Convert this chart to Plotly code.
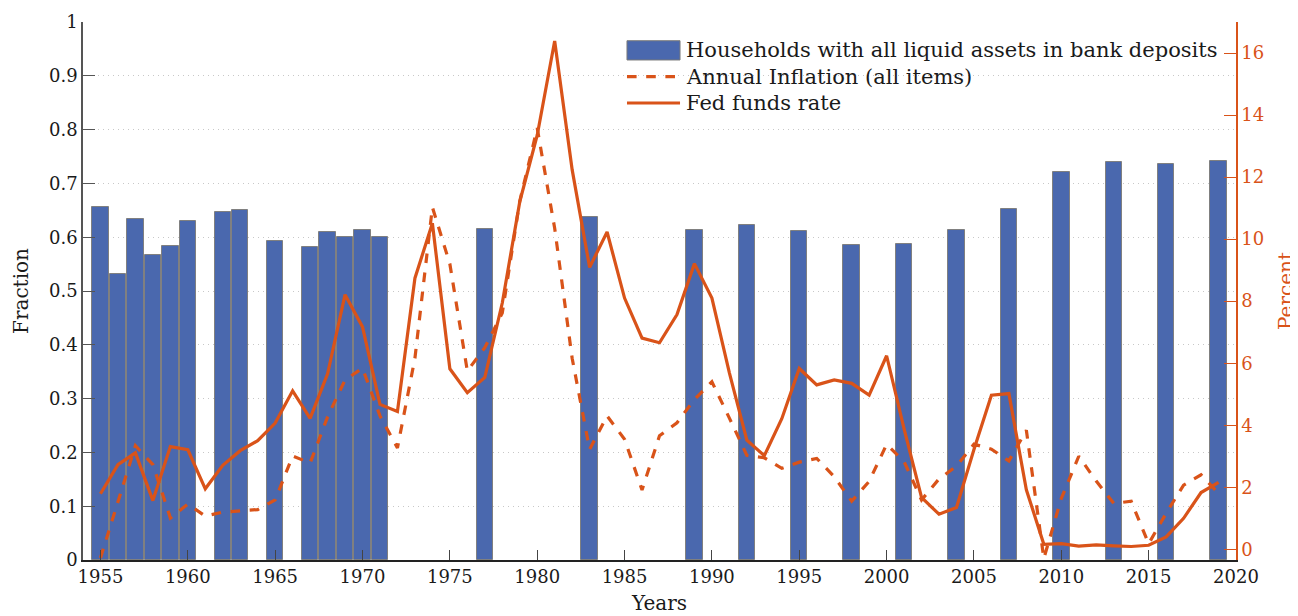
import plotly.graph_objects as go

# ---------------- data ----------------
bar_years = [1955, 1956, 1957, 1958, 1959, 1960, 1962, 1963, 1965, 1967, 1968, 1969, 1970, 1971,
             1977, 1983, 1989, 1992, 1995, 1998, 2001, 2004, 2007, 2010, 2013, 2016, 2019]
bar_share = [0.656, 0.532, 0.633, 0.567, 0.584, 0.631, 0.647, 0.650, 0.593, 0.582, 0.609, 0.601, 0.613, 0.600,
             0.615, 0.638, 0.613, 0.623, 0.611, 0.585, 0.587, 0.613, 0.653, 0.722, 0.740, 0.736, 0.742]

line_years = list(range(1955, 2020))
fed_funds = [1.79, 2.73, 3.11, 1.57, 3.31, 3.21, 1.95, 2.71, 3.18, 3.50,
             4.07, 5.11, 4.22, 5.66, 8.21, 7.17, 4.67, 4.44, 8.74, 10.51,
             5.82, 5.05, 5.54, 7.94, 11.20, 13.35, 16.39, 12.24, 9.09, 10.23,
             8.10, 6.81, 6.66, 7.57, 9.21, 8.10, 5.69, 3.52, 3.02, 4.21,
             5.83, 5.30, 5.46, 5.35, 4.97, 6.24, 3.88, 1.67, 1.13, 1.35,
             3.22, 4.97, 5.02, 1.92, 0.16, 0.18, 0.10, 0.14, 0.11, 0.09,
             0.13, 0.40, 1.00, 1.83, 2.16]
inflation = [-0.28, 1.52, 3.34, 2.73, 1.01, 1.46, 1.07, 1.20, 1.24, 1.28,
             1.59, 3.01, 2.78, 4.27, 5.46, 5.84, 4.30, 3.27, 6.16, 11.03,
             9.20, 5.75, 6.50, 7.62, 11.22, 13.58, 10.35, 6.16, 3.22, 4.30,
             3.55, 1.91, 3.66, 4.08, 4.83, 5.40, 4.23, 3.03, 2.95, 2.61,
             2.81, 2.93, 2.34, 1.55, 2.19, 3.38, 2.83, 1.59, 2.27, 2.68,
             3.39, 3.23, 2.85, 3.84, -0.30, 1.64, 3.00, 2.20, 1.48, 1.55,
             0.18, 1.16, 2.07, 2.40, 1.80]

series_names = ["Households with all liquid assets in bank deposits",
                "Annual Inflation (all items)",
                "Fed funds rate"]

left_ticks = [0, 0.1, 0.2, 0.3, 0.4, 0.5, 0.6, 0.7, 0.8, 0.9, 1]
right_ticks = [0, 2, 4, 6, 8, 10, 12, 14, 16]
x_ticks = [1955, 1960, 1965, 1970, 1975, 1980, 1985, 1990, 1995, 2000, 2005, 2010, 2015, 2020]

# ---------------- style ----------------
BLUE = "#4A68AE"
ORANGE = "#D95319"
FONT = "DejaVu Serif"
TXT = "#1a1a1a"

fig = go.Figure()
fig.add_trace(go.Bar(
    x=bar_years, y=bar_share, width=0.94,
    marker=dict(color=BLUE, line=dict(color="#808080", width=1)),
    name=series_names[0], yaxis="y", showlegend=False))
fig.add_trace(go.Scatter(
    x=line_years, y=inflation, mode="lines",
    line=dict(color=ORANGE, width=3.2, dash="dash"),
    name=series_names[1], yaxis="y2", showlegend=False))
fig.add_trace(go.Scatter(
    x=line_years, y=fed_funds, mode="lines",
    line=dict(color=ORANGE, width=3.2),
    name=series_names[2], yaxis="y2", showlegend=False))

# ---- hand-drawn legend (paper coordinates) ----
lx0, lx1, tx = 0.4718, 0.5178, 0.5213
rows = [0.9475, 0.8985, 0.8494]
shapes = [
    dict(type="rect", xref="paper", yref="paper", x0=lx0, x1=lx1, y0=0.9294, y1=0.9652,
         fillcolor=BLUE, line=dict(color="#7a7a7a", width=1)),
    dict(type="line", xref="paper", yref="paper", x0=lx0, x1=lx1, y0=rows[1], y1=rows[1],
         line=dict(color=ORANGE, width=3.2, dash="dash")),
    dict(type="line", xref="paper", yref="paper", x0=lx0, x1=lx1, y0=rows[2], y1=rows[2],
         line=dict(color=ORANGE, width=3.2)),
]
annotations = [
    dict(xref="paper", yref="paper", x=tx, y=r, text=n, showarrow=False,
         xanchor="left", yanchor="middle", font=dict(family=FONT, size=21, color=TXT))
    for n, r in zip(series_names, rows)
]

fig.update_layout(
    width=1290, height=608,
    margin=dict(l=75, r=62, t=14, b=56),
    paper_bgcolor="white", plot_bgcolor="white",
    font=dict(family=FONT, size=18, color=TXT),
    shapes=shapes, annotations=annotations,
    xaxis=dict(range=[1954, 2020], tickvals=x_ticks, ticks="inside", ticklen=10,
               tickcolor="#444", showline=True, linecolor="#222", linewidth=1.5,
               showgrid=False, zeroline=False, automargin=False,
               tickfont=dict(size=18),
               title=dict(text="Years", font=dict(size=20), standoff=10)),
    yaxis=dict(range=[0, 1], tickvals=left_ticks, ticks="inside", ticklen=12,
               tickcolor="#555", showline=True, linecolor="#555", linewidth=1.5,
               showgrid=True, gridcolor="#c8c8c8", griddash="1px,4px", gridwidth=1,
               zeroline=False, automargin=False, tickfont=dict(size=18),
               title=dict(text="Fraction", font=dict(size=20), standoff=15)),
    yaxis2=dict(range=[-0.345, 17.0], tickvals=right_ticks, overlaying="y", side="right",
                ticks="inside", ticklen=12, tickcolor=ORANGE,
                showline=True, linecolor=ORANGE, linewidth=1.5,
                showgrid=False, zeroline=False, automargin=False,
                tickfont=dict(color=ORANGE, size=18),
                title=dict(text="Percent", font=dict(color=ORANGE, size=20), standoff=17)),
    bargap=0,
)

fig.write_html("out.html")
